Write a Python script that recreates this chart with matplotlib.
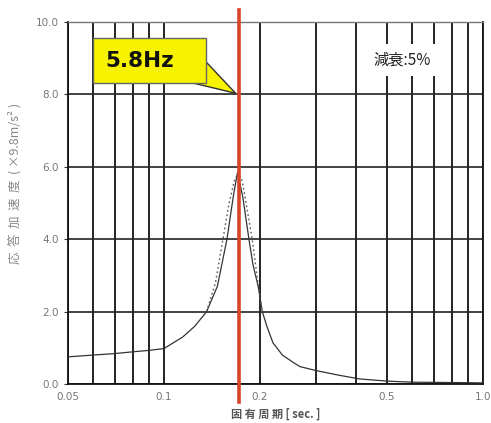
import matplotlib
matplotlib.use("Agg")
import matplotlib.pyplot as plt
from matplotlib.ticker import FixedLocator, NullFormatter
from matplotlib.patches import Rectangle, Polygon

# ---- data ----
period = [0.05, 0.06, 0.07, 0.08, 0.09, 0.10, 0.1145, 0.125, 0.136, 0.147, 0.1575,
          0.165, 0.170, 0.1767, 0.1846, 0.190, 0.1973, 0.2033, 0.21, 0.2195, 0.235,
          0.2557, 0.267, 0.30, 0.35, 0.41, 0.50, 0.60, 0.70, 0.80, 0.90, 1.00]
accel = [0.75, 0.80, 0.84, 0.89, 0.93, 0.98, 1.30, 1.60, 2.00, 2.70, 4.00,
         5.20, 5.85, 5.15, 4.00, 3.30, 2.70, 2.00, 1.60, 1.14, 0.80,
         0.58, 0.48, 0.37, 0.25, 0.14, 0.08, 0.05, 0.045, 0.04, 0.035, 0.03]

period_dot = [0.136, 0.145, 0.153, 0.160, 0.166, 0.171, 0.176, 0.180, 0.189, 0.197, 0.203]
accel_dot = [2.00, 2.80, 4.00, 5.00, 5.60, 5.85, 5.60, 5.10, 4.00, 2.80, 2.00]

freq_hz = 5.8
x_major = [0.05, 0.1, 0.2, 0.5, 1.0]
x_major_labels = ["0.05", "0.1", "0.2", "0.5", "1.0"]
x_minor = [0.06, 0.07, 0.08, 0.09, 0.3, 0.4, 0.6, 0.7, 0.8, 0.9]
y_ticks = [0, 2, 4, 6, 8, 10]
y_labels = ["0.0", "2.0", "4.0", "6.0", "8.0", "10.0"]

jp = ["Noto Sans CJK JP", "DejaVu Sans"]

fig = plt.figure(figsize=(4.91, 4.23), dpi=100)
ax = fig.add_axes([68/491, 39/423, 415/491, 362/423])
ax.set_xscale("log")
ax.set_xlim(0.05, 1.0)
ax.set_ylim(0, 10)

ax.xaxis.set_major_locator(FixedLocator(x_major))
ax.xaxis.set_minor_locator(FixedLocator(x_minor))
ax.xaxis.set_minor_formatter(NullFormatter())
ax.set_xticklabels(x_major_labels)
ax.set_yticks(y_ticks)
ax.set_yticklabels(y_labels)
ax.tick_params(axis="both", which="both", colors="#333333", labelcolor="#777777",
               labelsize=7.5, direction="in", length=0)
ax.tick_params(axis="y", length=3, direction="out", width=0.8)
ax.tick_params(axis="x", pad=6)

ax.grid(True, which="both", axis="x", color="#111111", lw=1.3)
ax.grid(True, which="major", axis="y", color="#222222", lw=1.2)
for s in ["left", "bottom", "right"]:
    ax.spines[s].set_color("#111111")
    ax.spines[s].set_linewidth(1.3)
ax.spines["top"].set_color("#777777")
ax.spines["top"].set_linewidth(1.0)

ax.plot(period, accel, color="#333333", lw=0.9, zorder=3)
ax.plot(period_dot, accel_dot, color="#555555", lw=1.0, ls=(0, (1.2, 2.0)), zorder=3)

# red vertical line at 5.8 Hz
ax.axvline(1/freq_hz, ymin=-0.05, ymax=1.033, color="#d8432a", lw=2.6,
           clip_on=False, zorder=4)

# callout (decoration, in axes coordinates)
ax.add_patch(Polygon([(0.3325, 0.890), (0.404, 0.803), (0.3012, 0.8315)],
                     closed=True, transform=ax.transAxes, fc="#f6f200",
                     ec="#333333", lw=1.0, zorder=6))
ax.add_patch(Rectangle((0.060, 0.8315), 0.2725, 0.1245, transform=ax.transAxes,
                       fc="#f6f200", ec="#666666", lw=1.0, zorder=7))
ax.text(0.1735, 0.893, "5.8Hz", transform=ax.transAxes, ha="center", va="center",
        fontsize=15.5, fontweight="bold", color="#111111", zorder=8)

ax.text(0.558, 8.95, "減衰:5%", family=jp, fontsize=11, color="#222222",
        ha="center", va="center",
        bbox=dict(boxstyle="square,pad=0.5", fc="white", ec="none"), zorder=5)

ax.set_xlabel("固 有 周 期 [ sec. ]", family=jp, fontsize=8, color="#555555",
              labelpad=4, fontweight="bold")
fig.text(15/491, 1 - 183/423, "応  答  加  速  度  ( ×9.8m/s² )", family=jp,
         fontsize=9, color="#888888", rotation=90, ha="center", va="center")

fig.savefig("out.png", dpi=100)
